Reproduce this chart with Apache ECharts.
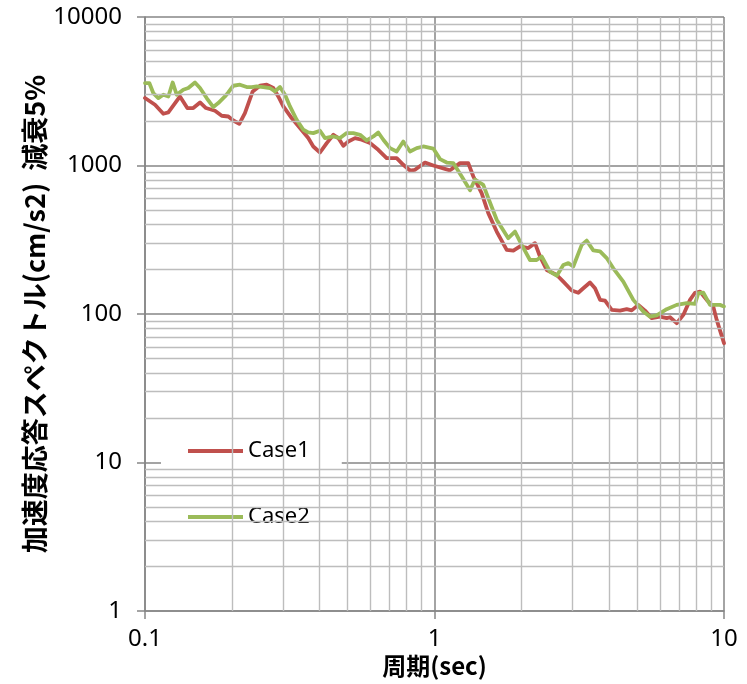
<!DOCTYPE html>
<html><head><meta charset="utf-8">
<script src="https://cdn.jsdelivr.net/npm/echarts@6/dist/echarts.min.js"></script>
<style>html,body{margin:0;padding:0;background:#fff}#c{width:747px;height:684px}</style>
</head><body><div id="c"></div>
<script>
const case1Period = [0.100,0.1083,0.1157,0.1204,0.1321,0.140,0.1468,0.1549,0.1624,0.1745,0.1841,0.194,0.2018,0.2117,0.2214,0.2355,0.2496,0.2633,0.2775,0.2887,0.3005,0.3211,0.343,0.3664,0.3813,0.4022,0.4244,0.4474,0.4654,0.4842,0.5038,0.5315,0.5604,0.5986,0.6393,0.6834,0.7403,0.7802,0.8231,0.8564,0.9272,0.9905,1.131,1.225,1.308,1.362,1.455,1.534,1.64,1.776,1.872,1.974,2.109,2.224,2.314,2.441,2.644,2.786,2.978,3.138,3.266,3.444,3.585,3.731,3.882,4.094,4.373,4.612,4.799,5.058,5.335,5.628,6.01,6.34,6.509,6.864,7.235,7.631,7.94,8.262,8.714,9.184,9.436,10];
const case1Accel = [2850,2565,2230,2277,2917,2437,2437,2658,2437,2337,2163,2138,2010,1910,2255,3153,3444,3498,3323,2917,2498,2086,1787,1530,1343,1223,1416,1610,1530,1357,1451,1530,1490,1416,1276,1122,1122,1011,925,935,1047,1000,928,1038,1038,843,652,478,359,270,267,285,278,300,244,198,183,165,144,139,149,163,149,124.5,123,106.6,105.4,107.7,105.8,115.2,105.4,93.7,96,93.7,95.1,86.7,98.6,124.5,139,141.6,124.5,112,91.3,63.6];
const case2Period = [0.1,0.1035,0.1068,0.1112,0.1157,0.1204,0.1246,0.1287,0.1356,0.1411,0.1488,0.1549,0.1633,0.1722,0.1791,0.1889,0.194,0.2018,0.2128,0.2245,0.2336,0.2431,0.2563,0.2703,0.2812,0.2926,0.3045,0.3168,0.3342,0.3522,0.3664,0.3813,0.4022,0.4186,0.4474,0.4716,0.4974,0.5244,0.5531,0.5834,0.6149,0.6393,0.6656,0.7021,0.7403,0.7802,0.8231,0.8681,0.915,0.9905,1.045,1.102,1.161,1.242,1.327,1.38,1.474,1.534,1.64,1.798,1.897,2.001,2.137,2.254,2.346,2.506,2.644,2.786,2.899,3.016,3.225,3.355,3.536,3.731,3.934,4.146,4.489,4.861,5.263,5.552,5.855,6.34,6.864,7.431,7.94,8.151,8.483,8.947,9.687,10];
const case2Accel = [3592,3592,3075,2846,2995,2917,3625,2995,3236,3323,3625,3323,2846,2475,2634,2917,3104,3444,3498,3375,3375,3406,3375,3323,3153,3375,2995,2498,2032,1740,1669,1653,1713,1530,1568,1530,1653,1653,1610,1474,1568,1669,1490,1310,1243,1451,1243,1310,1343,1300,1104,1047,1038,843,681,805,741,603,431,324,359,292,231,231,244,193,181,214,220,209,292,312,268,264,238,203,165,124.5,103.8,96,97.9,107.7,115.2,118.3,117,138,139,115.2,115.2,112.5];
const seriesNames = ['Case1','Case2'];
const xMinorTicks = [0.2,0.3,0.4,0.5,0.6,0.7,0.8,0.9,2,3,4,5,6,7,8,9];
const yMinorTicks = [2,3,4,5,6,7,8,9,20,30,40,50,60,70,80,90,200,300,400,500,600,700,800,900,2000,3000,4000,5000,6000,7000,8000,9000];
const xTickLabels = ['0.1','1','10'];
const yTickLabels = ['1','10','100','1000','10000'];

const pair = (xs, ys) => xs.map((x, i) => [x, ys[i]]);
const fmt = labels => v => { const s = String(+Number(v).toPrecision(6)); return labels.includes(s) ? s : ''; };
const majorC = '#868686', minorC = '#bdbdbd';

const chart = echarts.init(document.getElementById('c'), null, {renderer: 'canvas'});
chart.setOption({
  animation: false,
  backgroundColor: '#fff',
  grid: {left: 145, right: 23, top: 17, bottom: 73, containLabel: false},
  xAxis: {
    type: 'log', logBase: 10, min: 0.1, max: 10,
    name: '周期(sec)', nameLocation: 'middle', nameGap: 43, nameMoveOverlap: false,
    nameTextStyle: {fontFamily: 'Noto Sans CJK JP', fontWeight: 'bold', fontSize: 24, color: '#000'},
    axisLine: {show: true, lineStyle: {color: majorC, width: 1.5}},
    axisTick: {show: true, length: 8, inside: false, lineStyle: {color: majorC, width: 1.5}},
    axisLabel: {formatter: fmt(xTickLabels), fontFamily: 'Noto Sans', fontSize: 24, color: '#000', margin: 16},
    splitLine: {show: true, lineStyle: {color: majorC, width: 1.5}},
    minorTick: {show: false}, minorSplitLine: {show: false}
  },
  yAxis: {
    type: 'log', logBase: 10, min: 1, max: 10000,
    name: '加速度応答スペクトル(cm/s2)  減衰5%', nameLocation: 'middle', nameGap: 97, nameMoveOverlap: false,
    nameTextStyle: {fontFamily: 'Noto Sans CJK JP', fontWeight: 'bold', fontSize: 27, color: '#000'},
    axisLine: {show: true, lineStyle: {color: majorC, width: 1.5}},
    axisTick: {show: true, length: 8, inside: false, lineStyle: {color: majorC, width: 1.5}},
    axisLabel: {formatter: fmt(yTickLabels), fontFamily: 'Noto Sans', fontSize: 24, color: '#000', margin: 23},
    splitLine: {show: true, lineStyle: {color: majorC, width: 1.5}},
    minorTick: {show: false}, minorSplitLine: {show: false}
  },
  legend: {
    data: seriesNames.map(n => ({name: n, icon: 'rect'})), orient: 'vertical', left: 161, top: 417,
    padding: [23, 32, 26, 27], itemGap: 44, itemWidth: 55, itemHeight: 4,
    backgroundColor: '#fff', borderWidth: 0,
    textStyle: {fontFamily: 'Noto Sans', fontSize: 22, color: '#000'},
    selectedMode: false
  },
  series: [
    {
      name: 'grid-minor', type: 'line', data: [], silent: true, z: 1,
      markLine: {
        silent: true, symbol: ['none', 'none'], label: {show: false}, animation: false,
        lineStyle: {color: minorC, width: 1.4, type: 'solid'},
        emphasis: {disabled: true},
        data: xMinorTicks.map(v => ({xAxis: v})).concat(yMinorTicks.map(v => ({yAxis: v})))
      }
    },
    {name: seriesNames[0], type: 'line', data: pair(case1Period, case1Accel), showSymbol: false, symbol: 'none', z: 3,
     lineStyle: {color: '#C0504D', width: 3.8, join: 'round', cap: 'round'}, itemStyle: {color: '#C0504D'}},
    {name: seriesNames[1], type: 'line', data: pair(case2Period, case2Accel), showSymbol: false, symbol: 'none', z: 4,
     lineStyle: {color: '#9BBB59', width: 3.8, join: 'round', cap: 'round'}, itemStyle: {color: '#9BBB59'}}
  ]
});
</script></body></html>
